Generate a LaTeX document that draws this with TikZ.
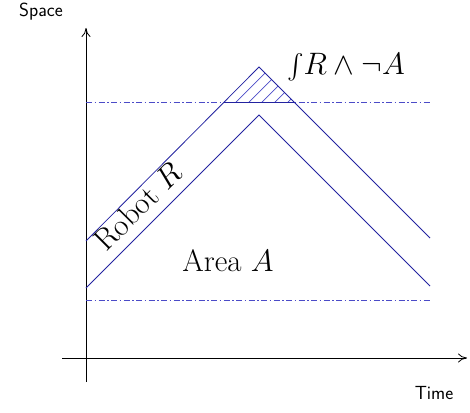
\RequirePackage{fix-cm}
\documentclass[tikz,border=0pt]{standalone}
\usepackage{fontspec}
\usepackage{exscale}
\usetikzlibrary{arrows.meta}
\definecolor{rline}{RGB}{35,35,160}
\definecolor{bline}{RGB}{75,75,200}
\begin{document}
\begin{tikzpicture}[x=1pt,y=-1pt,
  robot/.style={draw=rline, line width=0.8pt},
  bound/.style={draw=bline, dash pattern=on 6pt off 2.5pt on 1.5pt off 2.5pt, line width=0.7pt},
  axis/.style={draw=black, line width=0.8pt, -{To[length=9pt,width=9pt]}},
  hatch/.style={draw=bline, line width=0.7pt},
  lbl/.style={font=\fontsize{19}{22}\selectfont\sffamily, inner sep=0pt},
  big/.style={font=\fontsize{31}{36}\selectfont, inner sep=0pt}]
\useasboundingbox (0,0) rectangle (470,412);
% axes
\coordinate (ybot) at (86,382);
\coordinate (ytop) at (86,28);
\coordinate (xl) at (62,358);
\coordinate (xr) at (467,358);
\draw[axis] (ybot) -- (ytop);
\draw[axis] (xl) -- (xr);
\node[lbl] (space) at (41,12) {Space};
\node[lbl] (time) at (434,393) {Time};
% bounds of area
\coordinate (b1l) at (86,102);
\coordinate (b1r) at (430,102);
\coordinate (b2l) at (86,300);
\coordinate (b2r) at (430,300);
\draw[bound] (b1l) -- (b1r);
\draw[bound] (b2l) -- (b2r);
% hatch
\coordinate (hl) at (224,102);
\coordinate (hr) at (294,102);
\coordinate (apex) at (259,67);
\begin{scope}
\clip (hl) -- (apex) -- (hr) -- cycle;
\foreach \k in {-60,-47,...,100}
  \draw[hatch] (200+\k,120) -- (260+\k,60);
\end{scope}
\draw[robot] (hl) -- (hr);
% robot lines
\coordinate (r1) at (86,241);
\coordinate (r2) at (430,238);
\coordinate (a1) at (86,288);
\coordinate (a2) at (430,286);
\coordinate (apex2) at (259,115);
\draw[robot] (r1) -- (apex) -- (r2);
\draw[robot] (a1) -- (apex2) -- (a2);
% labels
\node[big] (area) at (228,261) {Area $A$};
\node[big, rotate=45, anchor=north, inner sep=1pt] (robot) at (129,198) {Robot $R$};
\node[big] (integral) at (346,67) {$\int\!R\wedge\neg A$};
\end{tikzpicture}
\end{document}
